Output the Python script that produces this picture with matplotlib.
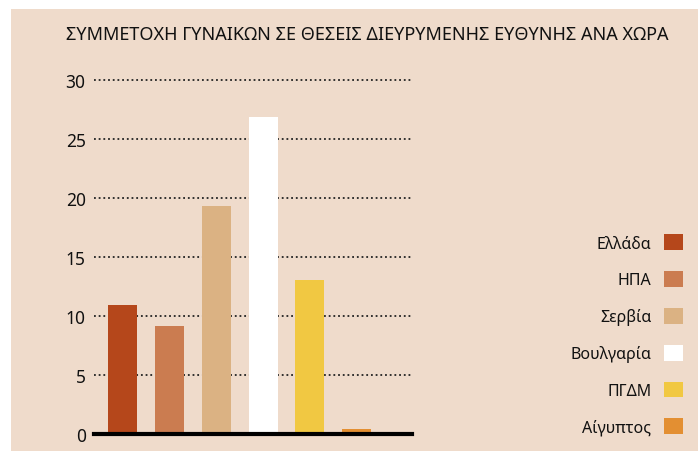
import matplotlib
matplotlib.use('Agg')
import matplotlib.pyplot as plt
from matplotlib.patches import Rectangle

plt.rcParams['font.family'] = ['Noto Sans', 'DejaVu Sans']

countries = ['Ελλάδα', 'ΗΠΑ', 'Σερβία', 'Βουλγαρία', 'ΠΓΔΜ', 'Αίγυπτος']
values = [10.9, 9.1, 19.3, 26.9, 13.0, 0.4]
colors = ['#B5471B', '#CB7C50', '#DBB283', '#FFFFFF', '#F1C842', '#E38F32']
yticks = [0, 5, 10, 15, 20, 25, 30]
title = 'ΣΥΜΜΕΤΟΧΗ ΓΥΝΑΙΚΩΝ ΣΕ ΘΕΣΕΙΣ ΔΙΕΥΡΥΜΕΝΗΣ ΕΥΘΥΝΗΣ ΑΝΑ ΧΩΡΑ'

bg = '#EFDBCB'
W, H = 698, 452
fig = plt.figure(figsize=(W / 100, H / 100), dpi=100)
fig.patch.set_facecolor('white')
fig.patches.append(Rectangle((11 / W, 0), 1, 1 - 10 / H, transform=fig.transFigure,
                             facecolor=bg, edgecolor='none', zorder=-10))

ax = fig.add_axes([94 / W, 1 - 434.7 / H, (412 - 94) / W, (434.7 - 81) / H])
ax.set_facecolor('none')

x = list(range(len(countries)))
bars = ax.bar(x, values, width=0.62, color=colors, zorder=3)

ax.set_xlim(-0.62, 6.19)
ax.set_ylim(0, 30)
ax.set_yticks(yticks)
ax.set_xticks([])
for y in yticks[1:]:
    ax.axhline(y, color='#222222', lw=1.3, ls=(0, (1, 1.6)), zorder=1, clip_on=False)

for s in ['top', 'right', 'left']:
    ax.spines[s].set_visible(False)
ax.spines['bottom'].set_linewidth(3)
ax.spines['bottom'].set_color('black')
ax.spines['bottom'].set_zorder(5)
ax.tick_params(axis='y', length=0, pad=6, labelsize=12.5, labelcolor='#111111')

fig.text(367 / W, 1 - 35 / H, title, ha='center', va='center', fontsize=13, color='#111111')

handles = [Rectangle((0, 0), 1, 1, facecolor=c, edgecolor='none') for c in colors]
leg = fig.legend(handles, countries, loc='center right', bbox_to_anchor=(697 / W, 1 - 336 / H),
                 frameon=False, markerfirst=False, fontsize=11.5, handlelength=1.15,
                 handleheight=1.15, handletextpad=0.8, labelspacing=1.22)
for t in leg.get_texts():
    t.set_color('#111111')

fig.savefig('out.png', dpi=100, facecolor=fig.get_facecolor())
